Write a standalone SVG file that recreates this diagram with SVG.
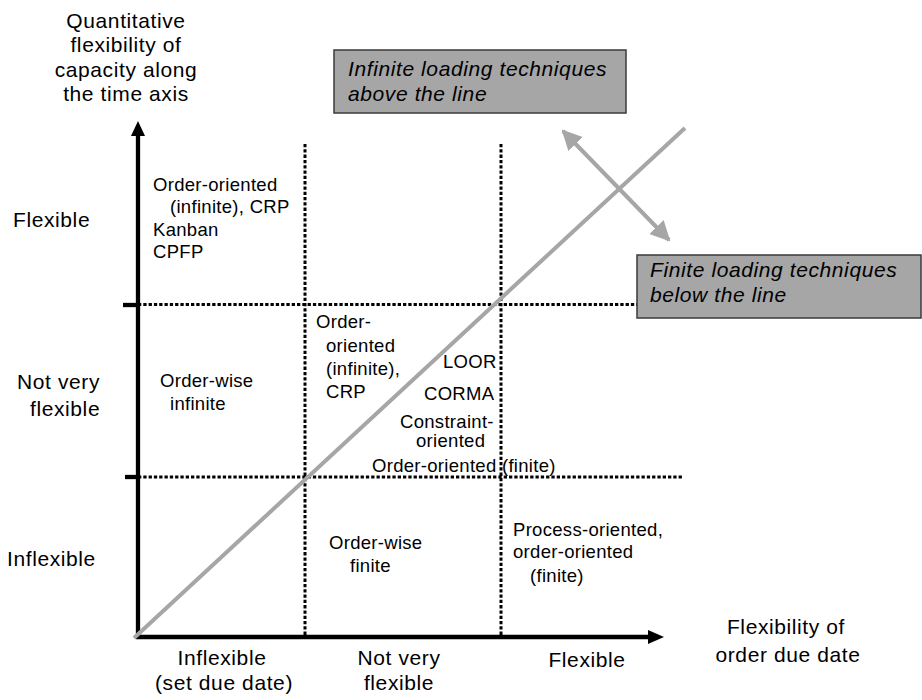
<svg xmlns="http://www.w3.org/2000/svg" width="922" height="700" viewBox="0 0 922 700">
<style>
text{font-family:"Liberation Sans",Arial,sans-serif;fill:#000}
.lab{font-size:21px;letter-spacing:0.6px}
.in{font-size:18.5px;letter-spacing:0.3px}
.box{fill:#a6a6a6;stroke:#3a3a3a;stroke-width:1.5}
.bt{font-size:21px;font-style:italic;letter-spacing:0.6px}
.dot{stroke:#000;stroke-width:3;stroke-dasharray:3.3 2;fill:none}
.axis{stroke:#000;stroke-width:4.3;fill:none}
.gray{stroke:#a6a6a6;stroke-width:4;fill:none}
</style>
<defs>
<marker id="gh" viewBox="0 0 10 10" refX="9" refY="5" markerWidth="5" markerHeight="5.5" orient="auto-start-reverse" markerUnits="strokeWidth">
<path d="M0,0 L10,5 L0,10 z" fill="#a6a6a6"/>
</marker>
</defs>
<g id="grid">
<line class="dot" x1="305" y1="144" x2="305" y2="636"/>
<line class="dot" x1="501" y1="144" x2="501" y2="636"/>
<line class="dot" x1="138" y1="304.5" x2="637" y2="304.5"/>
<line class="dot" x1="138" y1="477" x2="682" y2="477"/>
</g>
<g id="connectors">
<line class="axis" x1="138" y1="637" x2="138" y2="134"/>
<polygon points="138,121 131,136 145,136" fill="#000"/>
<line class="axis" x1="136" y1="637" x2="650" y2="637"/>
<polygon points="664,637 648,630 648,644" fill="#000"/>
<line class="axis" x1="123" y1="305" x2="138" y2="305"/>
<line class="axis" x1="125" y1="477" x2="138" y2="477"/>
<line class="gray" x1="134" y1="638" x2="685" y2="128"/>
<line class="gray" x1="563" y1="131" x2="669" y2="240" marker-start="url(#gh)" marker-end="url(#gh)"/>
</g>
<g id="yaxis-label">
<text class="lab" x="126" y="28" text-anchor="middle">Quantitative</text>
<text class="lab" x="126" y="52" text-anchor="middle">flexibility of</text>
<text class="lab" x="126" y="77" text-anchor="middle">capacity along</text>
<text class="lab" x="126" y="101" text-anchor="middle">the time axis</text>
</g>
<g id="xaxis-label">
<text class="lab" x="786" y="634" text-anchor="middle">Flexibility of</text>
<text class="lab" x="788" y="662" text-anchor="middle">order due date</text>
</g>
<g id="row-labels">
<text class="lab" x="13" y="227">Flexible</text>
<text class="lab" x="17" y="389">Not very</text>
<text class="lab" x="30" y="416">flexible</text>
<text class="lab" x="7" y="566">Inflexible</text>
</g>
<g id="col-labels">
<text class="lab" x="222" y="665" text-anchor="middle">Inflexible</text>
<text class="lab" x="224" y="690" text-anchor="middle">(set due date)</text>
<text class="lab" x="399" y="665" text-anchor="middle">Not very</text>
<text class="lab" x="399" y="690" text-anchor="middle">flexible</text>
<text class="lab" x="587" y="667" text-anchor="middle">Flexible</text>
</g>
<g id="cell-top-left">
<text class="in" x="153" y="191">Order-oriented</text>
<text class="in" x="170" y="213">(infinite), CRP</text>
<text class="in" x="153" y="236">Kanban</text>
<text class="in" x="153" y="258">CPFP</text>
</g>
<g id="cell-mid-left">
<text class="in" x="160" y="387">Order-wise</text>
<text class="in" x="170" y="410">infinite</text>
</g>
<g id="cell-mid-mid">
<text class="in" x="316" y="328">Order-</text>
<text class="in" x="326" y="352">oriented</text>
<text class="in" x="326" y="375">(infinite),</text>
<text class="in" x="326" y="398">CRP</text>
<text class="in" x="443" y="368">LOOR</text>
<text class="in" x="424" y="400">CORMA</text>
<text class="in" x="400" y="428">Constraint-</text>
<text class="in" x="416" y="447">oriented</text>
<text class="in" x="372" y="472">Order-oriented (finite)</text>
</g>
<g id="cell-bottom-mid">
<text class="in" x="329" y="549">Order-wise</text>
<text class="in" x="350" y="572">finite</text>
</g>
<g id="cell-bottom-right">
<text class="in" x="513" y="536">Process-oriented,</text>
<text class="in" x="513" y="558">order-oriented</text>
<text class="in" x="530" y="582">(finite)</text>
</g>
<g id="box-infinite">
<rect class="box" x="334" y="50" width="292" height="63"/>
<text class="bt" x="348" y="76">Infinite loading techniques</text>
<text class="bt" x="348" y="101">above the line</text>
</g>
<g id="box-finite">
<rect class="box" x="637" y="255" width="284" height="63"/>
<text class="bt" x="650" y="277">Finite loading techniques</text>
<text class="bt" x="650" y="302">below the line</text>
</g>
</svg>
